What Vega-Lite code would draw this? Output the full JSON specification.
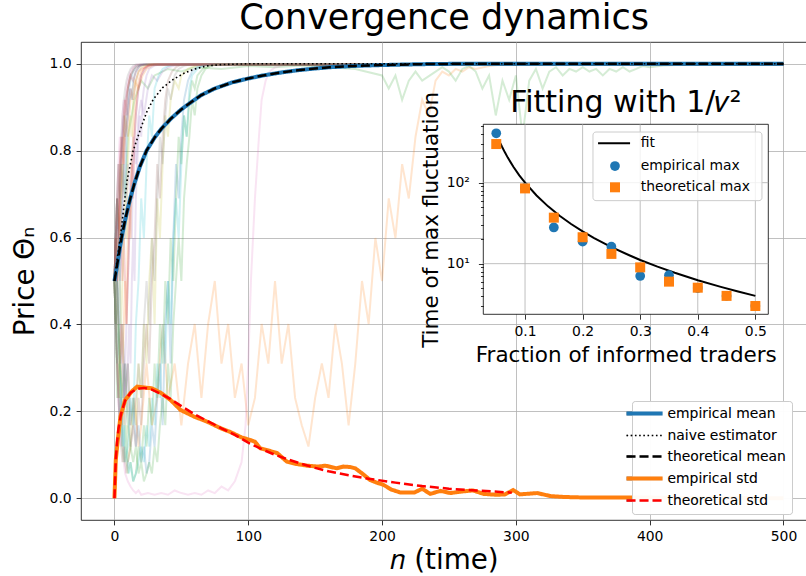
{
  "$schema": "https://vega.github.io/schema/vega-lite/v6.json",
  "width": 726,
  "height": 478,
  "autosize": {"type": "none"},
  "padding": {"left": 81, "top": 42, "right": 0, "bottom": 56},
  "background": "white",
  "title": {"text": "Convergence dynamics", "font": "DejaVu Sans", "fontSize": 35, "fontWeight": "normal", "color": "black", "anchor": "middle", "baseline": "alphabetic", "offset": -22},
  "config": {
    "view": {"stroke": "black", "strokeWidth": 0.8},
    "font": "DejaVu Sans",
    "axis": {"labelFont": "DejaVu Sans", "labelFontSize": 13.9, "labelColor": "black", "tickColor": "black", "tickWidth": 0.8, "tickSize": 4.9, "labelPadding": 4.9, "domain": false, "titleFont": "DejaVu Sans", "titleFontWeight": "normal", "titleColor": "black", "gridColor": "#b0b0b0", "gridWidth": 0.8, "labelFlush": false, "labelOverlap": false, "labelBound": false},
    "legend": {"labelFont": "DejaVu Sans", "labelFontSize": 13.9, "labelColor": "black", "fillColor": "rgba(255,255,255,0.8)", "strokeColor": "#cccccc", "cornerRadius": 3, "padding": 5.6, "rowPadding": 6, "labelOffset": 16}
  },
  "datasets": {
    "traj": [
      {"run":"a","n":0,"p":0.5},{"run":"a","n":1,"p":0.599},{"run":"a","n":2,"p":0.69},{"run":"a","n":3,"p":0.599},{"run":"a","n":4,"p":0.69},{"run":"a","n":5,"p":0.769},{"run":"a","n":6,"p":0.832},{"run":"a","n":7,"p":0.881},{"run":"a","n":8,"p":0.832},{"run":"a","n":9,"p":0.881},{"run":"a","n":10,"p":0.917},{"run":"a","n":11,"p":0.943},{"run":"a","n":12,"p":0.961},{"run":"a","n":14,"p":0.982},{"run":"a","n":16,"p":0.992},{"run":"a","n":20,"p":0.998},{"run":"a","n":500,"p":0.998},
      {"run":"b","n":0,"p":0.5},{"run":"b","n":1,"p":0.401},{"run":"b","n":2,"p":0.5},{"run":"b","n":3,"p":0.401},{"run":"b","n":4,"p":0.31},{"run":"b","n":6,"p":0.401},{"run":"b","n":8,"p":0.231},{"run":"b","n":10,"p":0.31},{"run":"b","n":12,"p":0.168},{"run":"b","n":15,"p":0.231},{"run":"b","n":18,"p":0.119},{"run":"b","n":20,"p":0.168},{"run":"b","n":24,"p":0.31},{"run":"b","n":28,"p":0.168},{"run":"b","n":32,"p":0.231},{"run":"b","n":36,"p":0.401},{"run":"b","n":40,"p":0.231},{"run":"b","n":45,"p":0.31},{"run":"b","n":50,"p":0.168},{"run":"b","n":55,"p":0.31},{"run":"b","n":60,"p":0.401},{"run":"b","n":65,"p":0.231},{"run":"b","n":70,"p":0.401},{"run":"b","n":75,"p":0.5},{"run":"b","n":80,"p":0.31},{"run":"b","n":85,"p":0.401},{"run":"b","n":90,"p":0.231},{"run":"b","n":95,"p":0.31},{"run":"b","n":100,"p":0.168},{"run":"b","n":105,"p":0.231},{"run":"b","n":110,"p":0.401},{"run":"b","n":115,"p":0.31},{"run":"b","n":120,"p":0.5},{"run":"b","n":125,"p":0.31},{"run":"b","n":130,"p":0.401},{"run":"b","n":135,"p":0.231},{"run":"b","n":140,"p":0.168},{"run":"b","n":145,"p":0.119},{"run":"b","n":150,"p":0.231},{"run":"b","n":155,"p":0.31},{"run":"b","n":160,"p":0.231},{"run":"b","n":165,"p":0.401},{"run":"b","n":170,"p":0.31},{"run":"b","n":175,"p":0.168},{"run":"b","n":180,"p":0.31},{"run":"b","n":185,"p":0.5},{"run":"b","n":190,"p":0.401},{"run":"b","n":195,"p":0.599},{"run":"b","n":200,"p":0.5},{"run":"b","n":205,"p":0.69},{"run":"b","n":210,"p":0.599},{"run":"b","n":215,"p":0.769},{"run":"b","n":220,"p":0.69},{"run":"b","n":225,"p":0.832},{"run":"b","n":230,"p":0.917},{"run":"b","n":235,"p":0.881},{"run":"b","n":240,"p":0.961},{"run":"b","n":245,"p":0.982},{"run":"b","n":250,"p":0.973},{"run":"b","n":255,"p":0.988},{"run":"b","n":260,"p":0.982},{"run":"b","n":265,"p":0.992},{"run":"b","n":270,"p":0.988},{"run":"b","n":280,"p":0.995},{"run":"b","n":290,"p":0.998},{"run":"b","n":500,"p":0.998},
      {"run":"c","n":0,"p":0.5},{"run":"c","n":2,"p":0.69},{"run":"c","n":4,"p":0.599},{"run":"c","n":6,"p":0.769},{"run":"c","n":8,"p":0.69},{"run":"c","n":10,"p":0.832},{"run":"c","n":15,"p":0.917},{"run":"c","n":20,"p":0.961},{"run":"c","n":25,"p":0.943},{"run":"c","n":30,"p":0.973},{"run":"c","n":40,"p":0.988},{"run":"c","n":50,"p":0.982},{"run":"c","n":60,"p":0.992},{"run":"c","n":80,"p":0.988},{"run":"c","n":100,"p":0.995},{"run":"c","n":120,"p":0.992},{"run":"c","n":140,"p":0.996},{"run":"c","n":160,"p":0.992},{"run":"c","n":180,"p":0.988},{"run":"c","n":200,"p":0.973},{"run":"c","n":205,"p":0.943},{"run":"c","n":210,"p":0.973},{"run":"c","n":215,"p":0.917},{"run":"c","n":220,"p":0.961},{"run":"c","n":225,"p":0.982},{"run":"c","n":230,"p":0.961},{"run":"c","n":240,"p":0.982},{"run":"c","n":245,"p":0.992},{"run":"c","n":250,"p":0.982},{"run":"c","n":255,"p":0.961},{"run":"c","n":260,"p":0.988},{"run":"c","n":265,"p":0.995},{"run":"c","n":270,"p":0.982},{"run":"c","n":275,"p":0.943},{"run":"c","n":280,"p":0.973},{"run":"c","n":285,"p":0.881},{"run":"c","n":290,"p":0.961},{"run":"c","n":295,"p":0.917},{"run":"c","n":300,"p":0.973},{"run":"c","n":305,"p":0.832},{"run":"c","n":310,"p":0.961},{"run":"c","n":315,"p":0.988},{"run":"c","n":320,"p":0.943},{"run":"c","n":325,"p":0.982},{"run":"c","n":330,"p":0.992},{"run":"c","n":335,"p":0.973},{"run":"c","n":340,"p":0.988},{"run":"c","n":345,"p":0.982},{"run":"c","n":350,"p":0.992},{"run":"c","n":355,"p":0.982},{"run":"c","n":360,"p":0.988},{"run":"c","n":365,"p":0.973},{"run":"c","n":370,"p":0.988},{"run":"c","n":375,"p":0.982},{"run":"c","n":380,"p":0.992},{"run":"c","n":385,"p":0.982},{"run":"c","n":390,"p":0.988},{"run":"c","n":395,"p":0.995},{"run":"c","n":400,"p":0.992},{"run":"c","n":410,"p":0.996},{"run":"c","n":430,"p":0.998},{"run":"c","n":500,"p":0.998},
      {"run":"d","n":0,"p":0.5},{"run":"d","n":1,"p":0.599},{"run":"d","n":2,"p":0.5},{"run":"d","n":3,"p":0.599},{"run":"d","n":4,"p":0.69},{"run":"d","n":5,"p":0.769},{"run":"d","n":6,"p":0.69},{"run":"d","n":7,"p":0.769},{"run":"d","n":8,"p":0.832},{"run":"d","n":10,"p":0.881},{"run":"d","n":12,"p":0.943},{"run":"d","n":14,"p":0.917},{"run":"d","n":16,"p":0.961},{"run":"d","n":18,"p":0.982},{"run":"d","n":20,"p":0.988},{"run":"d","n":25,"p":0.995},{"run":"d","n":30,"p":0.998},{"run":"d","n":500,"p":0.998},
      {"run":"e","n":0,"p":0.5},{"run":"e","n":1,"p":0.401},{"run":"e","n":2,"p":0.5},{"run":"e","n":3,"p":0.599},{"run":"e","n":4,"p":0.5},{"run":"e","n":6,"p":0.69},{"run":"e","n":8,"p":0.599},{"run":"e","n":10,"p":0.769},{"run":"e","n":12,"p":0.69},{"run":"e","n":14,"p":0.832},{"run":"e","n":16,"p":0.769},{"run":"e","n":18,"p":0.881},{"run":"e","n":20,"p":0.917},{"run":"e","n":22,"p":0.881},{"run":"e","n":25,"p":0.943},{"run":"e","n":28,"p":0.973},{"run":"e","n":32,"p":0.961},{"run":"e","n":36,"p":0.982},{"run":"e","n":40,"p":0.992},{"run":"e","n":45,"p":0.996},{"run":"e","n":50,"p":0.998},{"run":"e","n":500,"p":0.998},
      {"run":"f","n":0,"p":0.5},{"run":"f","n":2,"p":0.599},{"run":"f","n":4,"p":0.769},{"run":"f","n":6,"p":0.832},{"run":"f","n":8,"p":0.917},{"run":"f","n":10,"p":0.943},{"run":"f","n":12,"p":0.973},{"run":"f","n":15,"p":0.988},{"run":"f","n":18,"p":0.995},{"run":"f","n":22,"p":0.998},{"run":"f","n":500,"p":0.998},
      {"run":"g","n":0,"p":0.5},{"run":"g","n":1,"p":0.401},{"run":"g","n":2,"p":0.31},{"run":"g","n":3,"p":0.231},{"run":"g","n":4,"p":0.168},{"run":"g","n":5,"p":0.119},{"run":"g","n":6,"p":0.168},{"run":"g","n":7,"p":0.083},{"run":"g","n":8,"p":0.057},{"run":"g","n":10,"p":0.039},{"run":"g","n":12,"p":0.027},{"run":"g","n":14,"p":0.018},{"run":"g","n":16,"p":0.012},{"run":"g","n":18,"p":0.018},{"run":"g","n":20,"p":0.008},{"run":"g","n":25,"p":0.012},{"run":"g","n":30,"p":0.008},{"run":"g","n":35,"p":0.012},{"run":"g","n":40,"p":0.008},{"run":"g","n":45,"p":0.018},{"run":"g","n":50,"p":0.012},{"run":"g","n":55,"p":0.008},{"run":"g","n":60,"p":0.012},{"run":"g","n":65,"p":0.008},{"run":"g","n":70,"p":0.018},{"run":"g","n":75,"p":0.012},{"run":"g","n":80,"p":0.027},{"run":"g","n":85,"p":0.018},{"run":"g","n":90,"p":0.039},{"run":"g","n":95,"p":0.083},{"run":"g","n":98,"p":0.168},{"run":"g","n":100,"p":0.31},{"run":"g","n":102,"p":0.5},{"run":"g","n":105,"p":0.69},{"run":"g","n":108,"p":0.832},{"run":"g","n":110,"p":0.917},{"run":"g","n":113,"p":0.961},{"run":"g","n":116,"p":0.982},{"run":"g","n":120,"p":0.992},{"run":"g","n":125,"p":0.996},{"run":"g","n":130,"p":0.998},{"run":"g","n":500,"p":0.998},
      {"run":"h","n":0,"p":0.5},{"run":"h","n":1,"p":0.599},{"run":"h","n":2,"p":0.69},{"run":"h","n":3,"p":0.769},{"run":"h","n":4,"p":0.69},{"run":"h","n":5,"p":0.832},{"run":"h","n":6,"p":0.881},{"run":"h","n":7,"p":0.917},{"run":"h","n":8,"p":0.943},{"run":"h","n":9,"p":0.961},{"run":"h","n":10,"p":0.973},{"run":"h","n":12,"p":0.988},{"run":"h","n":14,"p":0.995},{"run":"h","n":16,"p":0.998},{"run":"h","n":500,"p":0.998},
      {"run":"i","n":0,"p":0.5},{"run":"i","n":1,"p":0.401},{"run":"i","n":2,"p":0.31},{"run":"i","n":3,"p":0.401},{"run":"i","n":4,"p":0.231},{"run":"i","n":5,"p":0.31},{"run":"i","n":6,"p":0.168},{"run":"i","n":7,"p":0.231},{"run":"i","n":8,"p":0.119},{"run":"i","n":9,"p":0.168},{"run":"i","n":10,"p":0.083},{"run":"i","n":12,"p":0.119},{"run":"i","n":14,"p":0.231},{"run":"i","n":16,"p":0.168},{"run":"i","n":18,"p":0.31},{"run":"i","n":20,"p":0.231},{"run":"i","n":22,"p":0.401},{"run":"i","n":24,"p":0.31},{"run":"i","n":26,"p":0.5},{"run":"i","n":28,"p":0.599},{"run":"i","n":30,"p":0.401},{"run":"i","n":32,"p":0.69},{"run":"i","n":34,"p":0.599},{"run":"i","n":36,"p":0.769},{"run":"i","n":38,"p":0.881},{"run":"i","n":40,"p":0.832},{"run":"i","n":42,"p":0.917},{"run":"i","n":45,"p":0.961},{"run":"i","n":48,"p":0.943},{"run":"i","n":50,"p":0.973},{"run":"i","n":55,"p":0.988},{"run":"i","n":60,"p":0.995},{"run":"i","n":65,"p":0.998},{"run":"i","n":500,"p":0.998},
      {"run":"j","n":0,"p":0.5},{"run":"j","n":1,"p":0.401},{"run":"j","n":2,"p":0.31},{"run":"j","n":3,"p":0.231},{"run":"j","n":4,"p":0.31},{"run":"j","n":5,"p":0.168},{"run":"j","n":6,"p":0.119},{"run":"j","n":7,"p":0.168},{"run":"j","n":8,"p":0.083},{"run":"j","n":10,"p":0.119},{"run":"j","n":12,"p":0.231},{"run":"j","n":14,"p":0.168},{"run":"j","n":16,"p":0.401},{"run":"j","n":18,"p":0.5},{"run":"j","n":20,"p":0.69},{"run":"j","n":22,"p":0.599},{"run":"j","n":24,"p":0.769},{"run":"j","n":26,"p":0.881},{"run":"j","n":28,"p":0.832},{"run":"j","n":30,"p":0.943},{"run":"j","n":33,"p":0.973},{"run":"j","n":36,"p":0.988},{"run":"j","n":40,"p":0.995},{"run":"j","n":45,"p":0.998},{"run":"j","n":500,"p":0.998},
      {"run":"k","n":0,"p":0.5},{"run":"k","n":1,"p":0.599},{"run":"k","n":2,"p":0.5},{"run":"k","n":3,"p":0.401},{"run":"k","n":4,"p":0.5},{"run":"k","n":5,"p":0.31},{"run":"k","n":6,"p":0.401},{"run":"k","n":8,"p":0.231},{"run":"k","n":10,"p":0.31},{"run":"k","n":12,"p":0.168},{"run":"k","n":14,"p":0.231},{"run":"k","n":16,"p":0.119},{"run":"k","n":18,"p":0.168},{"run":"k","n":20,"p":0.083},{"run":"k","n":22,"p":0.119},{"run":"k","n":24,"p":0.057},{"run":"k","n":26,"p":0.083},{"run":"k","n":28,"p":0.168},{"run":"k","n":30,"p":0.119},{"run":"k","n":32,"p":0.231},{"run":"k","n":34,"p":0.31},{"run":"k","n":36,"p":0.168},{"run":"k","n":38,"p":0.401},{"run":"k","n":40,"p":0.5},{"run":"k","n":42,"p":0.31},{"run":"k","n":44,"p":0.599},{"run":"k","n":46,"p":0.769},{"run":"k","n":48,"p":0.69},{"run":"k","n":50,"p":0.832},{"run":"k","n":52,"p":0.917},{"run":"k","n":55,"p":0.961},{"run":"k","n":58,"p":0.982},{"run":"k","n":62,"p":0.992},{"run":"k","n":66,"p":0.996},{"run":"k","n":70,"p":0.998},{"run":"k","n":500,"p":0.998},
      {"run":"l","n":0,"p":0.5},{"run":"l","n":2,"p":0.69},{"run":"l","n":4,"p":0.599},{"run":"l","n":6,"p":0.769},{"run":"l","n":8,"p":0.881},{"run":"l","n":10,"p":0.832},{"run":"l","n":12,"p":0.917},{"run":"l","n":15,"p":0.961},{"run":"l","n":18,"p":0.943},{"run":"l","n":21,"p":0.973},{"run":"l","n":24,"p":0.988},{"run":"l","n":28,"p":0.995},{"run":"l","n":32,"p":0.998},{"run":"l","n":500,"p":0.998},
      {"run":"m","n":0,"p":0.5},{"run":"m","n":1,"p":0.401},{"run":"m","n":2,"p":0.231},{"run":"m","n":3,"p":0.31},{"run":"m","n":4,"p":0.168},{"run":"m","n":5,"p":0.231},{"run":"m","n":6,"p":0.119},{"run":"m","n":7,"p":0.083},{"run":"m","n":8,"p":0.119},{"run":"m","n":10,"p":0.057},{"run":"m","n":12,"p":0.083},{"run":"m","n":14,"p":0.039},{"run":"m","n":16,"p":0.057},{"run":"m","n":18,"p":0.119},{"run":"m","n":20,"p":0.083},{"run":"m","n":22,"p":0.168},{"run":"m","n":24,"p":0.119},{"run":"m","n":26,"p":0.231},{"run":"m","n":28,"p":0.168},{"run":"m","n":30,"p":0.31},{"run":"m","n":32,"p":0.231},{"run":"m","n":34,"p":0.401},{"run":"m","n":36,"p":0.31},{"run":"m","n":38,"p":0.5},{"run":"m","n":40,"p":0.401},{"run":"m","n":42,"p":0.599},{"run":"m","n":44,"p":0.5},{"run":"m","n":46,"p":0.69},{"run":"m","n":48,"p":0.832},{"run":"m","n":50,"p":0.769},{"run":"m","n":52,"p":0.881},{"run":"m","n":54,"p":0.832},{"run":"m","n":56,"p":0.917},{"run":"m","n":58,"p":0.961},{"run":"m","n":60,"p":0.943},{"run":"m","n":62,"p":0.973},{"run":"m","n":66,"p":0.988},{"run":"m","n":70,"p":0.995},{"run":"m","n":75,"p":0.998},{"run":"m","n":500,"p":0.998},
      {"run":"n","n":0,"p":0.5},{"run":"n","n":1,"p":0.599},{"run":"n","n":2,"p":0.69},{"run":"n","n":3,"p":0.599},{"run":"n","n":4,"p":0.769},{"run":"n","n":5,"p":0.832},{"run":"n","n":6,"p":0.769},{"run":"n","n":7,"p":0.881},{"run":"n","n":8,"p":0.917},{"run":"n","n":9,"p":0.881},{"run":"n","n":10,"p":0.943},{"run":"n","n":12,"p":0.973},{"run":"n","n":14,"p":0.961},{"run":"n","n":16,"p":0.982},{"run":"n","n":18,"p":0.992},{"run":"n","n":20,"p":0.996},{"run":"n","n":24,"p":0.998},{"run":"n","n":500,"p":0.998},
      {"run":"o","n":0,"p":0.5},{"run":"o","n":1,"p":0.599},{"run":"o","n":2,"p":0.5},{"run":"o","n":3,"p":0.401},{"run":"o","n":4,"p":0.31},{"run":"o","n":5,"p":0.401},{"run":"o","n":6,"p":0.31},{"run":"o","n":7,"p":0.231},{"run":"o","n":8,"p":0.31},{"run":"o","n":9,"p":0.401},{"run":"o","n":10,"p":0.5},{"run":"o","n":11,"p":0.599},{"run":"o","n":12,"p":0.69},{"run":"o","n":13,"p":0.599},{"run":"o","n":14,"p":0.769},{"run":"o","n":16,"p":0.881},{"run":"o","n":18,"p":0.943},{"run":"o","n":20,"p":0.973},{"run":"o","n":23,"p":0.988},{"run":"o","n":26,"p":0.996},{"run":"o","n":30,"p":0.998},{"run":"o","n":500,"p":0.998},
      {"run":"p","n":0,"p":0.5},{"run":"p","n":1,"p":0.401},{"run":"p","n":2,"p":0.31},{"run":"p","n":3,"p":0.231},{"run":"p","n":4,"p":0.168},{"run":"p","n":5,"p":0.119},{"run":"p","n":6,"p":0.083},{"run":"p","n":7,"p":0.119},{"run":"p","n":8,"p":0.083},{"run":"p","n":9,"p":0.057},{"run":"p","n":10,"p":0.083},{"run":"p","n":12,"p":0.119},{"run":"p","n":14,"p":0.168},{"run":"p","n":16,"p":0.119},{"run":"p","n":18,"p":0.231},{"run":"p","n":20,"p":0.168},{"run":"p","n":22,"p":0.31},{"run":"p","n":24,"p":0.401},{"run":"p","n":26,"p":0.31},{"run":"p","n":28,"p":0.5},{"run":"p","n":30,"p":0.599},{"run":"p","n":32,"p":0.769},{"run":"p","n":34,"p":0.69},{"run":"p","n":36,"p":0.832},{"run":"p","n":38,"p":0.917},{"run":"p","n":40,"p":0.961},{"run":"p","n":43,"p":0.982},{"run":"p","n":46,"p":0.992},{"run":"p","n":50,"p":0.998},{"run":"p","n":500,"p":0.998},
      {"run":"q","n":0,"p":0.5},{"run":"q","n":1,"p":0.599},{"run":"q","n":2,"p":0.69},{"run":"q","n":3,"p":0.769},{"run":"q","n":4,"p":0.832},{"run":"q","n":5,"p":0.769},{"run":"q","n":6,"p":0.881},{"run":"q","n":7,"p":0.917},{"run":"q","n":8,"p":0.881},{"run":"q","n":9,"p":0.943},{"run":"q","n":10,"p":0.961},{"run":"q","n":12,"p":0.982},{"run":"q","n":14,"p":0.992},{"run":"q","n":17,"p":0.998},{"run":"q","n":500,"p":0.998},
      {"run":"r","n":0,"p":0.5},{"run":"r","n":1,"p":0.401},{"run":"r","n":2,"p":0.5},{"run":"r","n":3,"p":0.401},{"run":"r","n":4,"p":0.31},{"run":"r","n":5,"p":0.231},{"run":"r","n":6,"p":0.31},{"run":"r","n":7,"p":0.231},{"run":"r","n":8,"p":0.168},{"run":"r","n":10,"p":0.231},{"run":"r","n":12,"p":0.119},{"run":"r","n":14,"p":0.168},{"run":"r","n":16,"p":0.231},{"run":"r","n":18,"p":0.31},{"run":"r","n":20,"p":0.231},{"run":"r","n":22,"p":0.401},{"run":"r","n":24,"p":0.5},{"run":"r","n":26,"p":0.401},{"run":"r","n":28,"p":0.599},{"run":"r","n":30,"p":0.5},{"run":"r","n":32,"p":0.69},{"run":"r","n":34,"p":0.832},{"run":"r","n":36,"p":0.769},{"run":"r","n":38,"p":0.881},{"run":"r","n":40,"p":0.943},{"run":"r","n":42,"p":0.917},{"run":"r","n":45,"p":0.973},{"run":"r","n":48,"p":0.988},{"run":"r","n":52,"p":0.995},{"run":"r","n":56,"p":0.998},{"run":"r","n":500,"p":0.998},
      {"run":"s","n":0,"p":0.5},{"run":"s","n":1,"p":0.599},{"run":"s","n":2,"p":0.5},{"run":"s","n":3,"p":0.599},{"run":"s","n":4,"p":0.5},{"run":"s","n":5,"p":0.401},{"run":"s","n":6,"p":0.5},{"run":"s","n":7,"p":0.599},{"run":"s","n":8,"p":0.69},{"run":"s","n":9,"p":0.599},{"run":"s","n":10,"p":0.769},{"run":"s","n":11,"p":0.832},{"run":"s","n":12,"p":0.881},{"run":"s","n":13,"p":0.832},{"run":"s","n":14,"p":0.917},{"run":"s","n":16,"p":0.961},{"run":"s","n":18,"p":0.982},{"run":"s","n":20,"p":0.992},{"run":"s","n":24,"p":0.998},{"run":"s","n":500,"p":0.998},
      {"run":"t","n":0,"p":0.5},{"run":"t","n":1,"p":0.401},{"run":"t","n":2,"p":0.31},{"run":"t","n":3,"p":0.401},{"run":"t","n":4,"p":0.31},{"run":"t","n":5,"p":0.231},{"run":"t","n":6,"p":0.168},{"run":"t","n":7,"p":0.119},{"run":"t","n":8,"p":0.168},{"run":"t","n":9,"p":0.119},{"run":"t","n":10,"p":0.083},{"run":"t","n":11,"p":0.057},{"run":"t","n":12,"p":0.083},{"run":"t","n":14,"p":0.039},{"run":"t","n":16,"p":0.057},{"run":"t","n":18,"p":0.083},{"run":"t","n":20,"p":0.119},{"run":"t","n":22,"p":0.083},{"run":"t","n":24,"p":0.168},{"run":"t","n":26,"p":0.119},{"run":"t","n":28,"p":0.231},{"run":"t","n":30,"p":0.168},{"run":"t","n":32,"p":0.31},{"run":"t","n":34,"p":0.231},{"run":"t","n":36,"p":0.401},{"run":"t","n":38,"p":0.31},{"run":"t","n":40,"p":0.5},{"run":"t","n":42,"p":0.401},{"run":"t","n":44,"p":0.599},{"run":"t","n":46,"p":0.69},{"run":"t","n":48,"p":0.599},{"run":"t","n":50,"p":0.769},{"run":"t","n":52,"p":0.881},{"run":"t","n":54,"p":0.832},{"run":"t","n":56,"p":0.943},{"run":"t","n":58,"p":0.973},{"run":"t","n":62,"p":0.988},{"run":"t","n":66,"p":0.995},{"run":"t","n":70,"p":0.998},{"run":"t","n":500,"p":0.998},
      {"run":"u","n":0,"p":0.5},{"run":"u","n":1,"p":0.599},{"run":"u","n":2,"p":0.69},{"run":"u","n":3,"p":0.599},{"run":"u","n":4,"p":0.5},{"run":"u","n":5,"p":0.599},{"run":"u","n":6,"p":0.69},{"run":"u","n":7,"p":0.769},{"run":"u","n":8,"p":0.69},{"run":"u","n":9,"p":0.832},{"run":"u","n":10,"p":0.881},{"run":"u","n":11,"p":0.917},{"run":"u","n":12,"p":0.943},{"run":"u","n":13,"p":0.917},{"run":"u","n":14,"p":0.961},{"run":"u","n":16,"p":0.982},{"run":"u","n":19,"p":0.995},{"run":"u","n":22,"p":0.998},{"run":"u","n":500,"p":0.998},
      {"run":"v","n":0,"p":0.5},{"run":"v","n":1,"p":0.401},{"run":"v","n":2,"p":0.31},{"run":"v","n":3,"p":0.231},{"run":"v","n":4,"p":0.31},{"run":"v","n":5,"p":0.401},{"run":"v","n":6,"p":0.31},{"run":"v","n":7,"p":0.401},{"run":"v","n":8,"p":0.5},{"run":"v","n":9,"p":0.401},{"run":"v","n":10,"p":0.599},{"run":"v","n":11,"p":0.69},{"run":"v","n":12,"p":0.599},{"run":"v","n":13,"p":0.769},{"run":"v","n":14,"p":0.832},{"run":"v","n":15,"p":0.881},{"run":"v","n":16,"p":0.917},{"run":"v","n":18,"p":0.961},{"run":"v","n":20,"p":0.982},{"run":"v","n":23,"p":0.992},{"run":"v","n":26,"p":0.998},{"run":"v","n":500,"p":0.998},
      {"run":"w","n":0,"p":0.5},{"run":"w","n":1,"p":0.401},{"run":"w","n":2,"p":0.5},{"run":"w","n":3,"p":0.401},{"run":"w","n":4,"p":0.31},{"run":"w","n":6,"p":0.231},{"run":"w","n":8,"p":0.31},{"run":"w","n":10,"p":0.168},{"run":"w","n":12,"p":0.119},{"run":"w","n":14,"p":0.083},{"run":"w","n":16,"p":0.119},{"run":"w","n":18,"p":0.057},{"run":"w","n":20,"p":0.083},{"run":"w","n":22,"p":0.039},{"run":"w","n":24,"p":0.057},{"run":"w","n":26,"p":0.083},{"run":"w","n":28,"p":0.057},{"run":"w","n":30,"p":0.119},{"run":"w","n":32,"p":0.083},{"run":"w","n":34,"p":0.168},{"run":"w","n":36,"p":0.231},{"run":"w","n":38,"p":0.168},{"run":"w","n":40,"p":0.31},{"run":"w","n":42,"p":0.231},{"run":"w","n":44,"p":0.401},{"run":"w","n":46,"p":0.5},{"run":"w","n":48,"p":0.599},{"run":"w","n":50,"p":0.5},{"run":"w","n":52,"p":0.69},{"run":"w","n":54,"p":0.769},{"run":"w","n":56,"p":0.832},{"run":"w","n":58,"p":0.917},{"run":"w","n":60,"p":0.881},{"run":"w","n":62,"p":0.943},{"run":"w","n":65,"p":0.973},{"run":"w","n":68,"p":0.988},{"run":"w","n":72,"p":0.995},{"run":"w","n":76,"p":0.998},{"run":"w","n":500,"p":0.998},
      {"run":"x","n":0,"p":0.5},{"run":"x","n":1,"p":0.599},{"run":"x","n":2,"p":0.5},{"run":"x","n":3,"p":0.599},{"run":"x","n":4,"p":0.69},{"run":"x","n":5,"p":0.599},{"run":"x","n":6,"p":0.5},{"run":"x","n":7,"p":0.599},{"run":"x","n":8,"p":0.5},{"run":"x","n":9,"p":0.401},{"run":"x","n":10,"p":0.5},{"run":"x","n":11,"p":0.599},{"run":"x","n":12,"p":0.69},{"run":"x","n":13,"p":0.769},{"run":"x","n":14,"p":0.69},{"run":"x","n":15,"p":0.832},{"run":"x","n":16,"p":0.881},{"run":"x","n":17,"p":0.917},{"run":"x","n":18,"p":0.943},{"run":"x","n":20,"p":0.973},{"run":"x","n":22,"p":0.988},{"run":"x","n":25,"p":0.995},{"run":"x","n":28,"p":0.998},{"run":"x","n":500,"p":0.998},
      {"run":"y","n":0,"p":0.5},{"run":"y","n":1,"p":0.401},{"run":"y","n":2,"p":0.31},{"run":"y","n":3,"p":0.231},{"run":"y","n":4,"p":0.168},{"run":"y","n":5,"p":0.231},{"run":"y","n":6,"p":0.168},{"run":"y","n":7,"p":0.231},{"run":"y","n":8,"p":0.31},{"run":"y","n":9,"p":0.231},{"run":"y","n":10,"p":0.31},{"run":"y","n":11,"p":0.401},{"run":"y","n":12,"p":0.31},{"run":"y","n":13,"p":0.5},{"run":"y","n":14,"p":0.599},{"run":"y","n":15,"p":0.5},{"run":"y","n":16,"p":0.69},{"run":"y","n":17,"p":0.769},{"run":"y","n":18,"p":0.832},{"run":"y","n":19,"p":0.881},{"run":"y","n":20,"p":0.832},{"run":"y","n":21,"p":0.917},{"run":"y","n":22,"p":0.943},{"run":"y","n":24,"p":0.973},{"run":"y","n":26,"p":0.988},{"run":"y","n":30,"p":0.996},{"run":"y","n":34,"p":0.998},{"run":"y","n":500,"p":0.998},
      {"run":"z","n":0,"p":0.5},{"run":"z","n":1,"p":0.599},{"run":"z","n":2,"p":0.69},{"run":"z","n":3,"p":0.769},{"run":"z","n":4,"p":0.69},{"run":"z","n":5,"p":0.769},{"run":"z","n":6,"p":0.832},{"run":"z","n":7,"p":0.769},{"run":"z","n":8,"p":0.881},{"run":"z","n":9,"p":0.917},{"run":"z","n":10,"p":0.943},{"run":"z","n":11,"p":0.961},{"run":"z","n":12,"p":0.973},{"run":"z","n":14,"p":0.988},{"run":"z","n":16,"p":0.995},{"run":"z","n":19,"p":0.998},{"run":"z","n":500,"p":0.998}
    ],
    "curves": [
      {"series":"empirical mean","n":0,"p":0.5},{"series":"empirical mean","n":2,"p":0.535},{"series":"empirical mean","n":4,"p":0.575},{"series":"empirical mean","n":6,"p":0.61},{"series":"empirical mean","n":8,"p":0.64},{"series":"empirical mean","n":10,"p":0.667},{"series":"empirical mean","n":12,"p":0.692},{"series":"empirical mean","n":15,"p":0.725},{"series":"empirical mean","n":19,"p":0.763},{"series":"empirical mean","n":24,"p":0.8},{"series":"empirical mean","n":30,"p":0.83},{"series":"empirical mean","n":35,"p":0.85},{"series":"empirical mean","n":42,"p":0.873},{"series":"empirical mean","n":50,"p":0.895},{"series":"empirical mean","n":58,"p":0.913},{"series":"empirical mean","n":65,"p":0.928},{"series":"empirical mean","n":75,"p":0.943},{"series":"empirical mean","n":88,"p":0.957},{"series":"empirical mean","n":100,"p":0.966},{"series":"empirical mean","n":111,"p":0.973},{"series":"empirical mean","n":125,"p":0.98},{"series":"empirical mean","n":137,"p":0.985},{"series":"empirical mean","n":150,"p":0.989},{"series":"empirical mean","n":161,"p":0.992},{"series":"empirical mean","n":180,"p":0.995},{"series":"empirical mean","n":200,"p":0.997},{"series":"empirical mean","n":230,"p":0.999},{"series":"empirical mean","n":260,"p":1.0},{"series":"empirical mean","n":500,"p":1.0},
      {"series":"naive estimator","n":0,"p":0.5},{"series":"naive estimator","n":2,"p":0.55},{"series":"naive estimator","n":4.5,"p":0.603},{"series":"naive estimator","n":7,"p":0.67},{"series":"naive estimator","n":9.5,"p":0.733},{"series":"naive estimator","n":14,"p":0.8},{"series":"naive estimator","n":19.4,"p":0.849},{"series":"naive estimator","n":24,"p":0.888},{"series":"naive estimator","n":29,"p":0.918},{"series":"naive estimator","n":36,"p":0.945},{"series":"naive estimator","n":44,"p":0.964},{"series":"naive estimator","n":52,"p":0.978},{"series":"naive estimator","n":59,"p":0.987},{"series":"naive estimator","n":69,"p":0.995},{"series":"naive estimator","n":80,"p":0.998},{"series":"naive estimator","n":100,"p":1.0},{"series":"naive estimator","n":500,"p":1.0},
      {"series":"theoretical mean","n":0,"p":0.5},{"series":"theoretical mean","n":2,"p":0.537},{"series":"theoretical mean","n":4,"p":0.576},{"series":"theoretical mean","n":6,"p":0.611},{"series":"theoretical mean","n":8,"p":0.641},{"series":"theoretical mean","n":10,"p":0.667},{"series":"theoretical mean","n":12,"p":0.692},{"series":"theoretical mean","n":15,"p":0.725},{"series":"theoretical mean","n":19,"p":0.763},{"series":"theoretical mean","n":24,"p":0.8},{"series":"theoretical mean","n":30,"p":0.83},{"series":"theoretical mean","n":35,"p":0.85},{"series":"theoretical mean","n":42,"p":0.873},{"series":"theoretical mean","n":50,"p":0.895},{"series":"theoretical mean","n":58,"p":0.913},{"series":"theoretical mean","n":65,"p":0.928},{"series":"theoretical mean","n":75,"p":0.943},{"series":"theoretical mean","n":88,"p":0.957},{"series":"theoretical mean","n":100,"p":0.966},{"series":"theoretical mean","n":111,"p":0.973},{"series":"theoretical mean","n":125,"p":0.98},{"series":"theoretical mean","n":137,"p":0.985},{"series":"theoretical mean","n":150,"p":0.989},{"series":"theoretical mean","n":161,"p":0.992},{"series":"theoretical mean","n":180,"p":0.995},{"series":"theoretical mean","n":200,"p":0.997},{"series":"theoretical mean","n":230,"p":0.999},{"series":"theoretical mean","n":260,"p":1.0},{"series":"theoretical mean","n":500,"p":1.0},
      {"series":"empirical std","n":0,"p":0},{"series":"empirical std","n":1,"p":0.088},{"series":"empirical std","n":2.5,"p":0.134},{"series":"empirical std","n":4.5,"p":0.188},{"series":"empirical std","n":8,"p":0.226},{"series":"empirical std","n":13,"p":0.246},{"series":"empirical std","n":17,"p":0.257},{"series":"empirical std","n":22,"p":0.255},{"series":"empirical std","n":28,"p":0.253},{"series":"empirical std","n":35,"p":0.242},{"series":"empirical std","n":42,"p":0.226},{"series":"empirical std","n":49.5,"p":0.203},{"series":"empirical std","n":59.5,"p":0.188},{"series":"empirical std","n":69.5,"p":0.176},{"series":"empirical std","n":79.5,"p":0.161},{"series":"empirical std","n":87,"p":0.152},{"series":"empirical std","n":95,"p":0.14},{"series":"empirical std","n":101.6,"p":0.134},{"series":"empirical std","n":105,"p":0.13},{"series":"empirical std","n":109,"p":0.115},{"series":"empirical std","n":115,"p":0.11},{"series":"empirical std","n":121.6,"p":0.104},{"series":"empirical std","n":129,"p":0.084},{"series":"empirical std","n":136,"p":0.079},{"series":"empirical std","n":144,"p":0.075},{"series":"empirical std","n":152,"p":0.073},{"series":"empirical std","n":157.7,"p":0.075},{"series":"empirical std","n":166,"p":0.069},{"series":"empirical std","n":171,"p":0.073},{"series":"empirical std","n":176,"p":0.072},{"series":"empirical std","n":180,"p":0.069},{"series":"empirical std","n":186,"p":0.055},{"series":"empirical std","n":191,"p":0.042},{"series":"empirical std","n":196,"p":0.036},{"series":"empirical std","n":201,"p":0.031},{"series":"empirical std","n":207,"p":0.02},{"series":"empirical std","n":214,"p":0.013},{"series":"empirical std","n":224,"p":0.013},{"series":"empirical std","n":230,"p":0.022},{"series":"empirical std","n":236,"p":0.01},{"series":"empirical std","n":243.6,"p":0.017},{"series":"empirical std","n":251,"p":0.012},{"series":"empirical std","n":261,"p":0.016},{"series":"empirical std","n":268,"p":0.018},{"series":"empirical std","n":276,"p":0.01},{"series":"empirical std","n":286,"p":0.008},{"series":"empirical std","n":292,"p":0.009},{"series":"empirical std","n":298,"p":0.019},{"series":"empirical std","n":303,"p":0.009},{"series":"empirical std","n":316,"p":0.012},{"series":"empirical std","n":326,"p":0.005},{"series":"empirical std","n":336,"p":0.003},{"series":"empirical std","n":348,"p":0.002},{"series":"empirical std","n":385,"p":0.002},{"series":"empirical std","n":420,"p":0.001},{"series":"empirical std","n":460,"p":0.0005},{"series":"empirical std","n":500,"p":0},
      {"series":"theoretical std","n":0,"p":0},{"series":"theoretical std","n":1,"p":0.09},{"series":"theoretical std","n":2,"p":0.13},{"series":"theoretical std","n":3,"p":0.16},{"series":"theoretical std","n":5,"p":0.195},{"series":"theoretical std","n":8,"p":0.225},{"series":"theoretical std","n":12,"p":0.243},{"series":"theoretical std","n":17,"p":0.252},{"series":"theoretical std","n":22,"p":0.254},{"series":"theoretical std","n":28,"p":0.25},{"series":"theoretical std","n":35,"p":0.24},{"series":"theoretical std","n":42,"p":0.228},{"series":"theoretical std","n":50,"p":0.212},{"series":"theoretical std","n":60,"p":0.193},{"series":"theoretical std","n":70,"p":0.177},{"series":"theoretical std","n":80,"p":0.161},{"series":"theoretical std","n":90,"p":0.146},{"series":"theoretical std","n":100,"p":0.128},{"series":"theoretical std","n":110,"p":0.113},{"series":"theoretical std","n":120,"p":0.1},{"series":"theoretical std","n":130,"p":0.089},{"series":"theoretical std","n":140,"p":0.079},{"series":"theoretical std","n":150,"p":0.07},{"series":"theoretical std","n":160,"p":0.062},{"series":"theoretical std","n":175,"p":0.053},{"series":"theoretical std","n":190,"p":0.045},{"series":"theoretical std","n":210,"p":0.036},{"series":"theoretical std","n":230,"p":0.028},{"series":"theoretical std","n":250,"p":0.022},{"series":"theoretical std","n":270,"p":0.018},{"series":"theoretical std","n":297,"p":0.013}
    ],
    "maxima": [
      {"kind":"empirical max","v":0.05,"t":407},{"kind":"empirical max","v":0.1,"t":86},{"kind":"empirical max","v":0.15,"t":28},{"kind":"empirical max","v":0.2,"t":18.7},{"kind":"empirical max","v":0.25,"t":16.2},{"kind":"empirical max","v":0.3,"t":7.05},{"kind":"empirical max","v":0.35,"t":7.2},{"kind":"empirical max","v":0.4,"t":5},{"kind":"empirical max","v":0.45,"t":4},{"kind":"empirical max","v":0.5,"t":3},
      {"kind":"theoretical max","v":0.05,"t":300},{"kind":"theoretical max","v":0.1,"t":85},{"kind":"theoretical max","v":0.15,"t":37},{"kind":"theoretical max","v":0.2,"t":21.2},{"kind":"theoretical max","v":0.25,"t":13.2},{"kind":"theoretical max","v":0.3,"t":9},{"kind":"theoretical max","v":0.35,"t":6},{"kind":"theoretical max","v":0.4,"t":5.05},{"kind":"theoretical max","v":0.45,"t":4},{"kind":"theoretical max","v":0.5,"t":3}
    ],
    "fit": [
      {"v":0.057,"t":308},{"v":0.06,"t":278},{"v":0.065,"t":237},{"v":0.07,"t":204},{"v":0.08,"t":156},{"v":0.09,"t":123},{"v":0.1,"t":100},{"v":0.12,"t":69.4},{"v":0.14,"t":51},{"v":0.16,"t":39},{"v":0.18,"t":30.9},{"v":0.2,"t":25},{"v":0.22,"t":20.7},{"v":0.25,"t":16},{"v":0.28,"t":12.8},{"v":0.3,"t":11.1},{"v":0.33,"t":9.18},{"v":0.36,"t":7.72},{"v":0.4,"t":6.25},{"v":0.44,"t":5.17},{"v":0.47,"t":4.53},{"v":0.5,"t":4}
    ]
  },
  "layer": [
    {
      "encoding": {
        "x": {"field": "n", "type": "quantitative", "scale": {"domain": [-25, 517.6], "nice": false, "zero": false}, "axis": {"orient": "bottom", "values": [0, 100, 200, 300, 400, 500], "title": "𝑛 (time)", "titleFontSize": 27.8, "titleY": 48, "titleBaseline": "alphabetic", "grid": true}},
        "y": {"field": "p", "type": "quantitative", "scale": {"domain": [-0.05, 1.05], "nice": false, "zero": false}, "axis": {"orient": "left", "values": [0, 0.2, 0.4, 0.6, 0.8, 1], "format": ".1f", "title": "Price Θₙ", "titleFontSize": 27.8, "titleX": -48, "titleBaseline": "alphabetic", "grid": true}}
      },
      "layer": [
        {
          "data": {"name": "traj"},
          "mark": {"type": "line", "strokeWidth": 2, "opacity": 0.2},
          "encoding": {"color": {"field": "run", "type": "nominal", "scale": {"scheme": "category10"}, "legend": null}}
        },
        {
          "data": {"name": "curves"},
          "encoding": {
            "color": {"field": "series", "type": "nominal", "scale": {"domain": ["empirical mean", "naive estimator", "theoretical mean", "empirical std", "theoretical std"], "range": ["#1f77b4", "black", "black", "#ff7f0e", "red"]}, "legend": {"title": null, "orient": "none", "legendX": 551, "legendY": 359, "symbolType": "stroke", "symbolSize": 1300, "encode": {"symbols": {"update": {"strokeWidth": {"signal": "datum.value == 'empirical mean' || datum.value == 'empirical std' ? 4 : datum.value == 'naive estimator' ? 1.6 : 2.5"}, "strokeDash": {"signal": "datum.value == 'naive estimator' ? [1.6, 2.6] : (datum.value == 'theoretical mean' || datum.value == 'theoretical std') ? [9, 4] : [1, 0]"}}}}}},
            "strokeDash": {"field": "series", "type": "nominal", "scale": {"domain": ["empirical mean", "naive estimator", "theoretical mean", "empirical std", "theoretical std"], "range": [[1, 0], [1.6, 2.6], [9, 4], [1, 0], [9, 4]]}, "legend": {"title": null, "orient": "none", "legendX": 551, "legendY": 359, "symbolType": "stroke", "symbolSize": 1300, "encode": {"symbols": {"update": {"strokeWidth": {"signal": "datum.value == 'empirical mean' || datum.value == 'empirical std' ? 4 : datum.value == 'naive estimator' ? 1.6 : 2.5"}, "strokeDash": {"signal": "datum.value == 'naive estimator' ? [1.6, 2.6] : (datum.value == 'theoretical mean' || datum.value == 'theoretical std') ? [9, 4] : [1, 0]"}}}}}}
          },
          "layer": [
            {"transform": [{"filter": "datum.series == 'empirical mean'"}], "mark": {"type": "line", "strokeWidth": 4}, "encoding": {}},
            {"transform": [{"filter": "datum.series == 'naive estimator'"}], "mark": {"type": "line", "strokeWidth": 1.6}, "encoding": {}},
            {"transform": [{"filter": "datum.series == 'theoretical mean'"}], "mark": {"type": "line", "strokeWidth": 2.5}, "encoding": {}},
            {"transform": [{"filter": "datum.series == 'empirical std'"}], "mark": {"type": "line", "strokeWidth": 4}, "encoding": {}},
            {"transform": [{"filter": "datum.series == 'theoretical std'"}], "mark": {"type": "line", "strokeWidth": 2.5}, "encoding": {}}
          ]
        }
      ],
      "resolve": {"scale": {"color": "independent"}}
    },
    {
      "layer": [
        {
          "data": {"values": [{}]},
          "mark": {"type": "rect", "fill": "white", "stroke": "black", "strokeWidth": 0.8},
          "encoding": {
            "x": {"datum": 0.0275, "type": "quantitative", "scale": {"domain": [0.0275, 0.5225], "range": [402.3, 687.3], "nice": false, "zero": false}},
            "x2": {"datum": 0.5225},
            "y": {"datum": 2.37, "type": "quantitative", "scale": {"type": "log", "domain": [2.37, 526], "range": [272.3, 82.3], "nice": false}},
            "y2": {"datum": 526}
          }
        },
        {
          "data": {"values": [{"g": 0.1}, {"g": 0.2}, {"g": 0.3}, {"g": 0.4}, {"g": 0.5}]},
          "mark": {"type": "rule", "color": "#b0b0b0", "strokeWidth": 0.8},
          "encoding": {
            "x": {"field": "g", "type": "quantitative", "scale": {"domain": [0.0275, 0.5225], "range": [402.3, 687.3], "nice": false, "zero": false}},
            "y": {"datum": 2.37, "type": "quantitative", "scale": {"type": "log", "domain": [2.37, 526], "range": [272.3, 82.3], "nice": false}},
            "y2": {"datum": 526}
          }
        },
        {
          "data": {"values": [{"g": 10}, {"g": 100}]},
          "mark": {"type": "rule", "color": "#b0b0b0", "strokeWidth": 0.8},
          "encoding": {
            "y": {"field": "g", "type": "quantitative", "scale": {"type": "log", "domain": [2.37, 526], "range": [272.3, 82.3], "nice": false}},
            "x": {"datum": 0.0275, "type": "quantitative", "scale": {"domain": [0.0275, 0.5225], "range": [402.3, 687.3], "nice": false, "zero": false}},
            "x2": {"datum": 0.5225}
          }
        },
        {
          "data": {"name": "fit"},
          "mark": {"type": "line", "color": "black", "strokeWidth": 2},
          "encoding": {
            "x": {"field": "v", "type": "quantitative", "scale": {"domain": [0.0275, 0.5225], "range": [402.3, 687.3], "nice": false, "zero": false}, "axis": {"orient": "bottom", "values": [0.1, 0.2, 0.3, 0.4, 0.5], "format": ".1f", "offset": -205.7, "title": "Fraction of informed traders", "titleFontSize": 21.5, "titleY": 47.4, "titleBaseline": "alphabetic", "grid": false, "zindex": 1}},
            "y": {"field": "t", "type": "quantitative", "scale": {"type": "log", "domain": [2.37, 526], "range": [272.3, 82.3], "nice": false}, "axis": {"orient": "left", "values": [3, 4, 5, 6, 7, 8, 9, 10, 20, 30, 40, 50, 60, 70, 80, 90, 100, 200, 300, 400, 500], "labelExpr": "datum.value == 10 ? '10¹' : datum.value == 100 ? '10²' : ''", "tickSize": {"condition": {"test": "datum.value == 10 || datum.value == 100", "value": 4.9}, "value": 2.8}, "labelPadding": 9, "offset": -402.3, "title": "Time of max fluctuation", "titleFontSize": 21.5, "titleX": -46.3, "titleBaseline": "alphabetic", "grid": false, "zindex": 1}}
          }
        },
        {
          "data": {"name": "maxima"},
          "transform": [{"filter": "datum.kind == 'empirical max'"}],
          "mark": {"type": "circle", "size": 95, "opacity": 1, "color": "#1f77b4"},
          "encoding": {
            "x": {"field": "v", "type": "quantitative", "scale": {"domain": [0.0275, 0.5225], "range": [402.3, 687.3], "nice": false, "zero": false}},
            "y": {"field": "t", "type": "quantitative", "scale": {"type": "log", "domain": [2.37, 526], "range": [272.3, 82.3], "nice": false}}
          }
        },
        {
          "data": {"name": "maxima"},
          "transform": [{"filter": "datum.kind == 'theoretical max'"}],
          "mark": {"type": "square", "size": 100, "opacity": 1, "color": "#ff7f0e"},
          "encoding": {
            "x": {"field": "v", "type": "quantitative", "scale": {"domain": [0.0275, 0.5225], "range": [402.3, 687.3], "nice": false, "zero": false}},
            "y": {"field": "t", "type": "quantitative", "scale": {"type": "log", "domain": [2.37, 526], "range": [272.3, 82.3], "nice": false}}
          }
        },
        {
          "data": {"values": [{}]},
          "mark": {"type": "rect", "fill": "white", "fillOpacity": 0.8, "stroke": "#cccccc", "strokeWidth": 1, "cornerRadius": 3},
          "encoding": {
            "x": {"datum": 0.218, "type": "quantitative"},
            "x2": {"datum": 0.5115},
            "y": {"datum": 60, "type": "quantitative"},
            "y2": {"datum": 422.5}
          }
        },
        {
          "data": {"values": [{}]},
          "mark": {"type": "rule", "color": "black", "strokeWidth": 2},
          "encoding": {
            "x": {"datum": 0.2268, "type": "quantitative"},
            "x2": {"datum": 0.2824},
            "y": {"datum": 306.6, "type": "quantitative"}
          }
        },
        {
          "data": {"values": [{}]},
          "mark": {"type": "circle", "size": 95, "opacity": 1, "color": "#1f77b4"},
          "encoding": {
            "x": {"datum": 0.2562, "type": "quantitative"},
            "y": {"datum": 160.7, "type": "quantitative"}
          }
        },
        {
          "data": {"values": [{}]},
          "mark": {"type": "square", "size": 100, "opacity": 1, "color": "#ff7f0e"},
          "encoding": {
            "x": {"datum": 0.2562, "type": "quantitative"},
            "y": {"datum": 87.7, "type": "quantitative"}
          }
        },
        {
          "data": {"values": [{"label": "fit", "t": 306.6}, {"label": "empirical max", "t": 160.7}, {"label": "theoretical max", "t": 87.7}]},
          "mark": {"type": "text", "align": "left", "baseline": "middle", "font": "DejaVu Sans", "fontSize": 13.9, "color": "black"},
          "encoding": {
            "x": {"datum": 0.3009, "type": "quantitative"},
            "y": {"field": "t", "type": "quantitative"},
            "text": {"field": "label"}
          }
        },
        {
          "data": {"values": [{}]},
          "mark": {"type": "text", "text": "Fitting with 1/𝑣²", "font": "DejaVu Sans", "fontSize": 30, "baseline": "alphabetic", "align": "center", "color": "black"},
          "encoding": {
            "x": {"datum": 0.275, "type": "quantitative", "scale": {"domain": [0.0275, 0.5225], "range": [402.3, 687.3], "nice": false, "zero": false}},
            "y": {"datum": 746, "type": "quantitative", "scale": {"type": "log", "domain": [2.37, 526], "range": [272.3, 82.3], "nice": false}}
          }
        }
      ]
    }
  ],
  "resolve": {"scale": {"x": "independent", "y": "independent", "color": "independent"}}
}
